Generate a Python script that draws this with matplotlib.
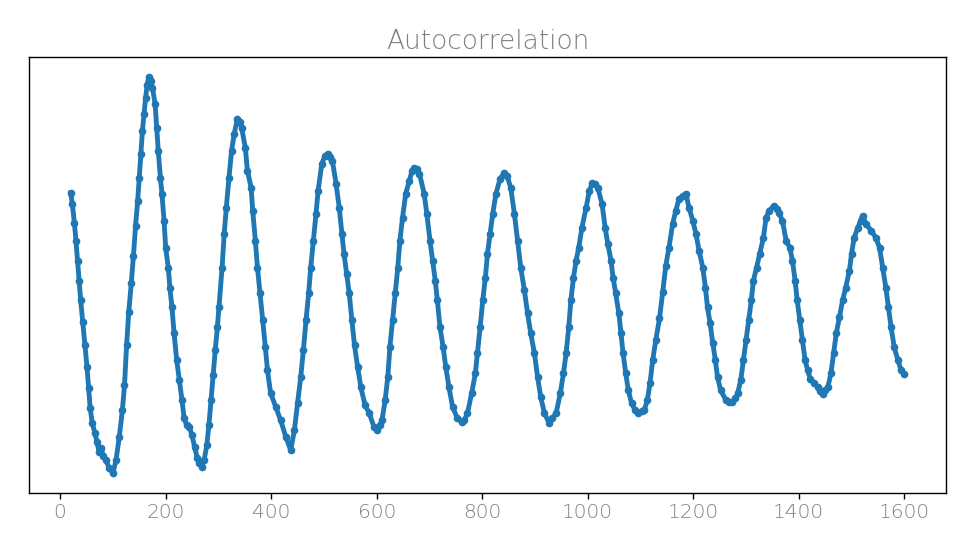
import matplotlib
matplotlib.use("Agg")
import matplotlib.pyplot as plt

lag = [20, 23, 27, 30, 33, 36, 39, 43, 47, 51, 54, 57, 61, 66, 70, 74, 78, 82, 87, 93,
       100, 106, 112, 118, 122, 126, 130, 135, 139, 143, 147, 150, 153, 156, 159, 162, 165, 168, 172, 175,
       180, 183, 186, 190, 193, 197, 200, 205, 208, 212, 216, 221, 226, 231, 235, 240, 245, 250, 255, 260,
       264, 268, 273, 278, 282, 286, 290, 294, 298, 301, 307, 311, 315, 320, 325, 330, 336, 340, 344, 351,
       355, 362, 365, 370, 374, 379, 384, 389, 393, 399, 409, 418, 428, 437, 444, 450, 456, 461, 466, 471,
       475, 480, 485, 489, 496, 502, 507, 512, 516, 523, 529, 534, 538, 543, 548, 553, 558, 564, 570, 578,
       586, 595, 601, 606, 610, 616, 621, 625, 630, 635, 640, 644, 649, 655, 662, 667, 671, 676, 681, 690,
       695, 701, 706, 711, 715, 720, 726, 731, 737, 744, 753, 761, 766, 772, 780, 787, 791, 796, 801, 806,
       810, 815, 820, 826, 834, 842, 847, 854, 861, 867, 873, 880, 886, 892, 899, 905, 911, 918, 927, 933,
       940, 948, 954, 959, 964, 968, 973, 978, 983, 989, 997, 1003, 1009, 1014, 1019, 1027, 1033, 1038, 1044, 1048,
       1053, 1059, 1063, 1067, 1072, 1077, 1083, 1090, 1095, 1102, 1107, 1113, 1118, 1123, 1129, 1136, 1142, 1148, 1154, 1161,
       1167, 1173, 1180, 1186, 1192, 1199, 1205, 1211, 1218, 1223, 1227, 1232, 1237, 1242, 1246, 1252, 1262, 1268, 1273, 1280,
       1284, 1290, 1295, 1300, 1305, 1310, 1314, 1320, 1326, 1333, 1338, 1344, 1353, 1358, 1362, 1369, 1376, 1383, 1388, 1393,
       1397, 1402, 1407, 1412, 1417, 1422, 1429, 1436, 1441, 1445, 1450, 1455, 1461, 1466, 1471, 1477, 1483, 1489, 1496, 1500,
       1505, 1512, 1517, 1521, 1527, 1537, 1546, 1553, 1559, 1565, 1570, 1575, 1581, 1588, 1594, 1600]

acf = [308, 297, 278, 260, 240, 220, 200, 178, 155, 133, 112, 92, 77, 67, 58, 48, 52, 44, 40, 32,
       27, 40, 63, 90, 115, 155, 188, 218, 245, 275, 300, 323, 347, 370, 387, 403, 416, 424, 420, 413,
       397, 373, 350, 323, 307, 280, 253, 233, 213, 193, 167, 140, 120, 100, 82, 75, 73, 65, 53, 42,
       37, 33, 40, 55, 75, 100, 125, 150, 173, 193, 233, 267, 293, 323, 350, 367, 382, 379, 373, 353,
       330, 313, 290, 260, 233, 207, 180, 153, 130, 107, 93, 80, 63, 50, 70, 97, 123, 150, 180, 207,
       233, 260, 287, 310, 337, 345, 347, 344, 340, 317, 293, 267, 247, 227, 207, 180, 155, 133, 113, 95,
       87, 73, 70, 75, 80, 100, 123, 153, 180, 207, 233, 260, 283, 307, 320, 330, 333, 332, 327, 307,
       287, 260, 240, 220, 200, 173, 153, 133, 113, 93, 82, 78, 80, 87, 107, 127, 147, 173, 200, 223,
       247, 267, 287, 307, 322, 328, 325, 313, 287, 260, 233, 210, 187, 167, 147, 123, 103, 87, 77, 82,
       87, 107, 127, 147, 173, 200, 223, 240, 253, 273, 293, 310, 318, 317, 313, 297, 273, 257, 240, 223,
       207, 187, 167, 147, 127, 110, 97, 90, 87, 89, 90, 100, 117, 140, 160, 182, 208, 235, 253, 277,
       290, 302, 305, 307, 293, 280, 267, 250, 233, 213, 193, 177, 157, 140, 123, 110, 100, 98, 98, 102,
       107, 120, 140, 160, 180, 200, 220, 233, 247, 263, 283, 290, 295, 292, 288, 280, 260, 253, 240, 220,
       200, 180, 160, 140, 130, 121, 117, 113, 109, 106, 110, 113, 127, 147, 167, 183, 200, 213, 230, 247,
       263, 273, 280, 285, 277, 270, 263, 253, 233, 213, 193, 173, 153, 140, 130, 126]

xticks = [0, 200, 400, 600, 800, 1000, 1200, 1400, 1600]

plt.rcParams['font.family'] = ['DejaVu Sans']

fig = plt.figure(figsize=(9.6, 5.4), dpi=100)
ax = fig.add_axes([0.0302, 0.087, 0.9552, 0.8074])
ax.plot(lag, acf, color='#1f77b4', linewidth=3.5, marker='o', markersize=4.5)
ax.set_xticks(xticks)
ax.set_yticks([])
ax.tick_params(axis='x', labelsize=14.5, length=4, width=1, colors='black')
for lab in ax.get_xticklabels():
    lab.set_color('#7f7f7f')
    lab.set_fontweight(200)
for s in ax.spines.values():
    s.set_linewidth(1)
    s.set_color('black')
ax.set_title('Autocorrelation', fontsize=19, color='#7f7f7f', fontweight=200, pad=6)
fig.savefig('out.png', dpi=100)
